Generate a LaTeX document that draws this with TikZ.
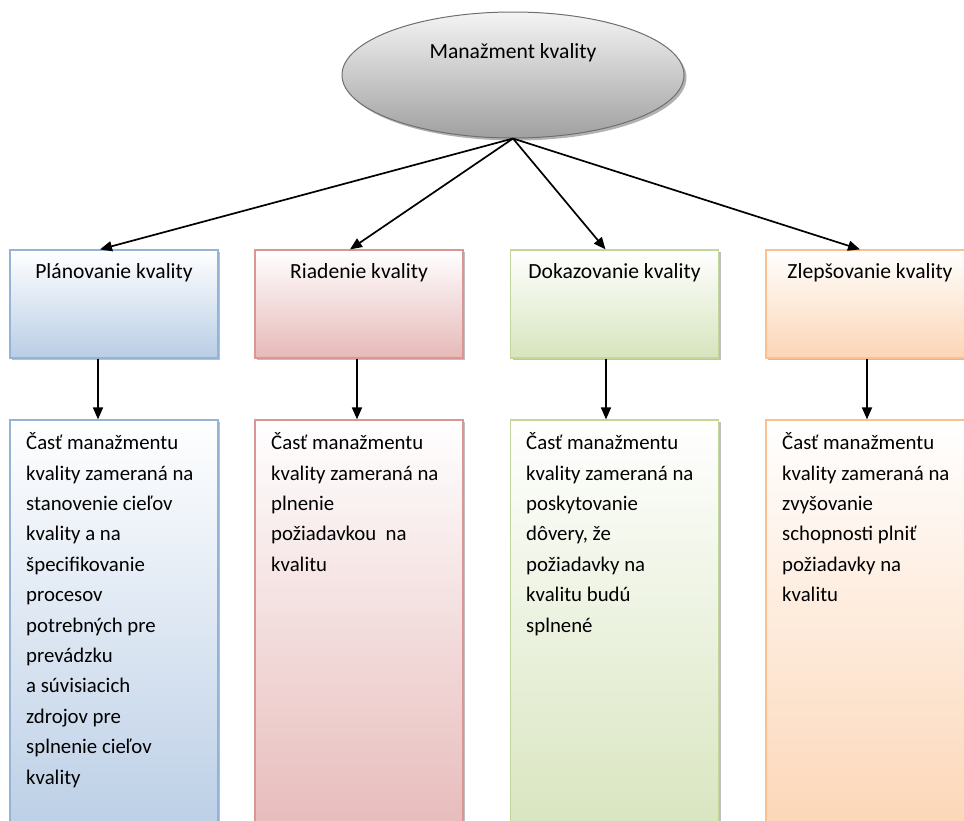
\documentclass[tikz,border=0pt]{standalone}
\usepackage{fontspec}
\setmainfont{Carlito}
\usetikzlibrary{shapes.geometric,shadows,arrows.meta}
\definecolor{blueedge}{HTML}{95B3D7}
\definecolor{bluefill}{HTML}{B9CDE5}
\definecolor{rededge}{HTML}{D99694}
\definecolor{redfill}{HTML}{E6B9B8}
\definecolor{greenedge}{HTML}{C3D69B}
\definecolor{greenfill}{HTML}{D7E4BD}
\definecolor{orangeedge}{HTML}{FAC090}
\definecolor{orangefill}{HTML}{FCD5B5}
\definecolor{ovaledge}{HTML}{6F6F6F}
\definecolor{ovaltop}{HTML}{F4F4F4}
\definecolor{ovalbottom}{HTML}{A0A0A0}
\tikzset{
  softshadow/.style={drop shadow={shadow xshift=2pt,shadow yshift=-2pt,opacity=0.25,fill=black}},
  headbox/.style={draw=#1edge,line width=1.2pt,top color=white,bottom color=#1fill,
    minimum width=208pt,minimum height=108pt,inner sep=0pt,softshadow},
  bodybox/.style={draw=#1edge,line width=1.2pt,top color=white,bottom color=#1fill,
    minimum width=208pt,minimum height=425pt,inner sep=0pt,softshadow},
  headtext/.style={font=\fontsize{21.6}{26}\selectfont,inner sep=0pt,anchor=base},
  bodytext/.style={font=\fontsize{20.8}{30.4}\selectfont,align=left,inner sep=0pt,anchor=north west},
  link/.style={line width=1.7pt,-{Triangle[length=12pt,width=10pt]}},
}
\begin{document}
\begin{tikzpicture}[x=1pt,y=-1pt]
\useasboundingbox (0,0) rectangle (964,820);
\clip (0,0) rectangle (964,820);

% root oval
\node[ellipse,draw=ovaledge,line width=1pt,top color=ovaltop,bottom color=ovalbottom,
  minimum width=342pt,minimum height=126pt,inner sep=0pt,
  drop shadow={shadow xshift=2.5pt,shadow yshift=-2.5pt,opacity=0.3,fill=black}] (root) at (513,75) {};
\node[headtext] (roottext) at (513,58) {Manažment kvality};

% header boxes
\node[headbox=blue]   (h1) at (114,304)   {};
\node[headbox=red]    (h2) at (359,304)   {};
\node[headbox=green]  (h3) at (614.5,304) {};
\node[headbox=orange] (h4) at (870,304)   {};
\node[headtext] (t1) at (114,278)   {Plánovanie kvality};
\node[headtext] (t2) at (359,278)   {Riadenie kvality};
\node[headtext] (t3) at (614.5,278) {Dokazovanie kvality};
\node[headtext] (t4) at (870,278)   {Zlepšovanie kvality};

% description boxes
\node[bodybox=blue]   (d1) at (114,632.5)   {};
\node[bodybox=red]    (d2) at (359,632.5)   {};
\node[bodybox=green]  (d3) at (614.5,632.5) {};
\node[bodybox=orange] (d4) at (870,632.5)   {};

\node[bodytext] (x1) at (26,432.5) {Časť manažmentu\\kvality zameraná na\\stanovenie cieľov\\kvality a na\\špecifikovanie\\procesov\\potrebných pre\\prevádzku\\a súvisiacich\\zdrojov pre\\splnenie cieľov\\kvality};
\node[bodytext] (x2) at (271,432.5) {Časť manažmentu\\kvality zameraná na\\plnenie\\požiadavkou\ \ na\\kvalitu};
\node[bodytext] (x3) at (526,432.5) {Časť manažmentu\\kvality zameraná na\\poskytovanie\\dôvery, že\\požiadavky na\\kvalitu budú\\splnené};
\node[bodytext] (x4) at (782,432.5) {Časť manažmentu\\kvality zameraná na\\zvyšovanie\\schopnosti plniť\\požiadavky na\\kvalitu};

% connectors
\draw[link] (root.south) -- ([xshift=-14pt]h1.north);
\draw[link] (root.south) -- ([xshift=-9pt]h2.north);
\draw[link] (root.south) -- ([xshift=-9pt]h3.north);
\draw[link] (root.south) -- ([xshift=-10pt]h4.north);
\draw[link] ([xshift=-16pt]h1.south) -- ([xshift=-16pt]d1.north);
\draw[link] ([xshift=-2pt]h2.south) -- ([xshift=-2pt]d2.north);
\draw[link] ([xshift=-8.5pt]h3.south) -- ([xshift=-8.5pt]d3.north);
\draw[link] ([xshift=-3pt]h4.south) -- ([xshift=-3pt]d4.north);
\end{tikzpicture}
\end{document}
